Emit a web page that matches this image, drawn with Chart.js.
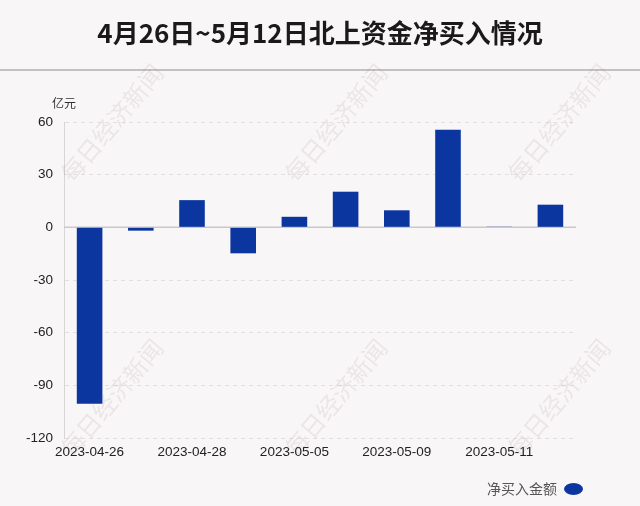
<!DOCTYPE html>
<html>
<head>
<meta charset="utf-8">
<script src="https://cdn.jsdelivr.net/npm/chart.js@4"></script>
<style>
  html, body { margin: 0; padding: 0; background: #f9f6f7; }
  #wrap { width: 640px; height: 506px; }
</style>
</head>
<body>
<div id="wrap"><canvas id="chart"></canvas></div>
<script>
/* ---------------- DATA ---------------- */

const dates = [
  "2023-04-26", "2023-04-27", "2023-04-28", "2023-05-04", "2023-05-05",
  "2023-05-08", "2023-05-09", "2023-05-10", "2023-05-11", "2023-05-12"
];
const netBuy = [-100.5, -1.9, 15.5, -14.8, 6.0, 20.3, 9.7, 55.6, 0.4, 12.9];
const yTicks = [60, 30, 0, -30, -60, -90, -120];

const titleText = "4月26日~5月12日北上资金净买入情况";
const seriesName = "净买入金额";
const unitText = "亿元";
const watermark = "每日经济新闻";

const barColor = "#0b36a0";
const sans = "'Liberation Sans', Arial, 'Noto Sans CJK SC', sans-serif";
const cjk = "'Noto Sans CJK SC', 'Liberation Sans', sans-serif";

/* ---------------- EXTRAS ---------------- */

// title + separator, unit label, zero line, watermark
const extras = {
  id: "extras",
  beforeDatasetsDraw(chart) {
    const { ctx, chartArea, scales } = chart;
    const y0 = scales.y.getPixelForValue(0);
    ctx.save();
    ctx.strokeStyle = "#cbc8ca";
    ctx.lineWidth = 1.5;
    ctx.beginPath();
    ctx.moveTo(chartArea.left, y0);
    ctx.lineTo(chartArea.right, y0);
    ctx.stroke();
    ctx.restore();
  },
  afterDraw(chart) {
    const { ctx, chartArea } = chart;
    ctx.save();
    ctx.textAlign = "center";
    ctx.textBaseline = "middle";

    ctx.fillStyle = "#1a1a1a";
    ctx.font = "bold 26px " + cjk;
    ctx.fillText(titleText, chart.width / 2, 33);

    ctx.strokeStyle = "#c4c1c3";
    ctx.lineWidth = 2;
    ctx.beginPath();
    ctx.moveTo(0, 70);
    ctx.lineTo(chart.width, 70);
    ctx.stroke();

    ctx.fillStyle = "#333";
    ctx.font = "12px " + cjk;
    ctx.fillText(unitText, chartArea.left, 103);

    ctx.font = "24px " + cjk;
    ctx.fillStyle = "rgba(90,80,85,0.09)";
    [123, 398].forEach(cy => {
      [112, 336, 559].forEach(cx => {
        ctx.save();
        ctx.translate(cx, cy);
        ctx.rotate(-50 * Math.PI / 180);
        ctx.fillText(watermark, 0, 0);
        ctx.restore();
      });
    });
    ctx.restore();
  }
};

/* ---------------- CHART ---------------- */

new Chart(document.getElementById("chart"), {
  type: "bar",
  data: {
    labels: dates,
    datasets: [{
      label: seriesName,
      data: netBuy,
      backgroundColor: barColor,
      borderWidth: 0,
      categoryPercentage: 1,
      barPercentage: 0.5
    }]
  },
  options: {
    responsive: true,
    maintainAspectRatio: false,
    animation: false,
    layout: { padding: { left: 0, right: 50, top: 122, bottom: 0 } },
    plugins: {
      title: { display: false },
      legend: {
        display: true,
        position: "bottom",
        align: "start",
        rtl: true,
        textDirection: "ltr",
        labels: {
          color: "#555",
          font: { family: cjk, size: 14 },
          usePointStyle: true,
          pointStyle: "circle",
          pointStyleWidth: 19,
          boxHeight: 8.5,
          padding: 7
        }
      },
      tooltip: { enabled: false }
    },
    scales: {
      x: {
        grid: { display: false, drawTicks: false },
        border: { display: false },
        ticks: {
          color: "#222",
          font: { family: sans, size: 13.5 },
          padding: 6,
          autoSkip: false,
          maxRotation: 0,
          callback(v, i) { return i % 2 === 0 ? this.getLabelForValue(v) : ""; }
        },
        afterFit(s) { s.height = 37; }
      },
      y: {
        min: -120,
        max: 60,
        afterBuildTicks(s) { s.ticks = yTicks.map(v => ({ value: v })); },
        grid: { color: "#e3e0e2", lineWidth: 1, drawTicks: false },
        border: { display: true, color: "#d8d5d7", width: 1, dash: [4, 4] },
        ticks: {
          color: "#222",
          font: { family: sans, size: 13.5 },
          padding: 11
        },
        afterFit(s) { s.width = 64; }
      },
      yR: {
        position: "right",
        display: true,
        grid: { display: false },
        border: { display: false },
        ticks: { display: false },
        afterFit(s) { s.width = 14; }
      }
    }
  },
  plugins: [extras]
});
</script>
</body>
</html>
